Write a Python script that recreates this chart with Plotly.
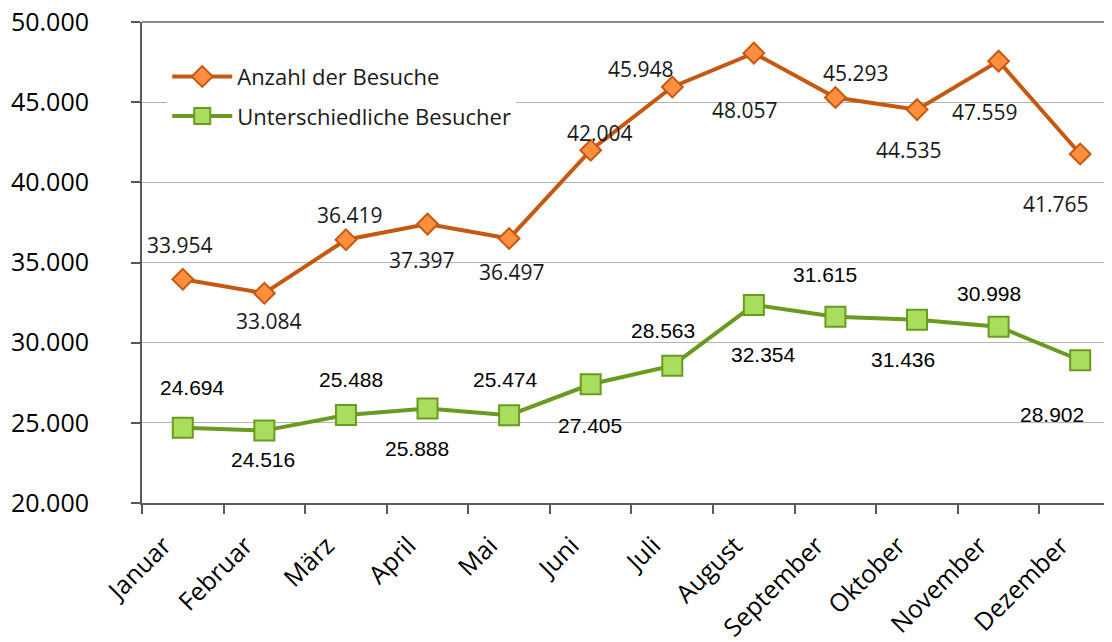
import plotly.graph_objects as go

months = ["Januar", "Februar", "März", "April", "Mai", "Juni", "Juli",
          "August", "September", "Oktober", "November", "Dezember"]
besuche = [33954, 33084, 36419, 37397, 36497, 42004, 45948, 48057, 45293, 44535, 47559, 41765]
besucher = [24694, 24516, 25488, 25888, 25474, 27405, 28563, 32354, 31615, 31436, 30998, 28902]

# label offsets in pixels (dx, dy with dy positive = down)
off_besuche = [(-3, -34), (5, 28), (4, -25), (-6, 36), (3, 33), (9, -17),
               (-31, -18), (-9, 57), (21, -24), (-8, 40), (-14, 51), (-24, 50)]
off_besucher = [(10, -40), (-1, 29), (5, -36), (-11, 40), (-4, -36), (-1, 41),
                (-9, -35), (10, 50), (-10, -42), (-14, 40), (-10, -33), (-28, 54)]

ORANGE_LINE = "#C65911"
ORANGE_FILL = "#FF8F3F"
GREEN_LINE = "#6A9A1F"
GREEN_FILL = "#A9DD5E"

fig = go.Figure()
fig.add_trace(go.Scatter(
    x=months, y=besuche, name="Anzahl der Besuche", mode="lines+markers",
    line=dict(color=ORANGE_LINE, width=4),
    marker=dict(symbol="diamond", size=16, color=ORANGE_FILL,
                line=dict(color=ORANGE_LINE, width=2)),
    legendgroup="a", cliponaxis=False,
))
fig.add_trace(go.Scatter(
    x=months, y=besucher, name="Unterschiedliche Besucher", mode="lines+markers",
    line=dict(color=GREEN_LINE, width=4),
    marker=dict(symbol="square", size=20, color=GREEN_FILL,
                line=dict(color=GREEN_LINE, width=2)),
    legendgroup="b", cliponaxis=False,
))

def fmt(v):
    return f"{v:,}".replace(",", ".")

annotations = []
for m, v, (dx, dy) in zip(months, besuche, off_besuche):
    annotations.append(dict(x=m, y=v, text=fmt(v), showarrow=False,
                            xshift=dx, yshift=-dy,
                            font=dict(family="Open Sans", size=21, color="#1a1a1a")))
for m, v, (dx, dy) in zip(months, besucher, off_besucher):
    annotations.append(dict(x=m, y=v, text=fmt(v), showarrow=False,
                            xshift=dx, yshift=-dy,
                            font=dict(family="Liberation Sans", size=21, color="#000000")))

# page body has an 8px margin, so the figure is sized/offset to compensate
fig.update_layout(
    width=1104, height=634,
    margin=dict(l=134, r=0, t=14, b=139),
    paper_bgcolor="white", plot_bgcolor="white",
    separators=",.",
    font=dict(family="Open Sans", color="#000000"),
    showlegend=True,
    legend=dict(x=0.026, y=0.93, xanchor="left", yanchor="top",
                bgcolor="white", font=dict(family="Open Sans", size=22, color="#1a1a1a"),
                traceorder="grouped", tracegroupgap=8, itemwidth=60),
    annotations=annotations,
    shapes=[dict(type="line", xref="paper", yref="paper", x0=0, x1=1, y0=1, y1=1,
                 line=dict(color="#8C8C8C", width=2))],
)
fig.update_xaxes(
    type="category", range=[-0.5, 11.39], automargin=False,
    showline=True, linecolor="#595959", linewidth=2,
    ticks="outside", ticklen=9, tickcolor="#595959", tickwidth=1.5,
    tickson="boundaries", tickangle=-45,
    ticklabelshift=-19, ticklabelstandoff=16, ticklabeloverflow="allow",
    tickfont=dict(family="Open Sans", size=25, color="#000000"),
    showgrid=False,
)
fig.update_yaxes(
    range=[20000, 50000], dtick=5000, tickformat=",d", automargin=False,
    showline=True, linecolor="#595959", linewidth=2,
    ticks="outside", ticklen=9, tickcolor="#595959", tickwidth=1.5,
    showgrid=True, gridcolor="#B4B4B4", gridwidth=1,
    tickfont=dict(family="Open Sans", size=25, color="#000000"),
    ticklabelstandoff=37, ticklabeloverflow="allow", zeroline=False,
)

fig.write_html("out.html")
